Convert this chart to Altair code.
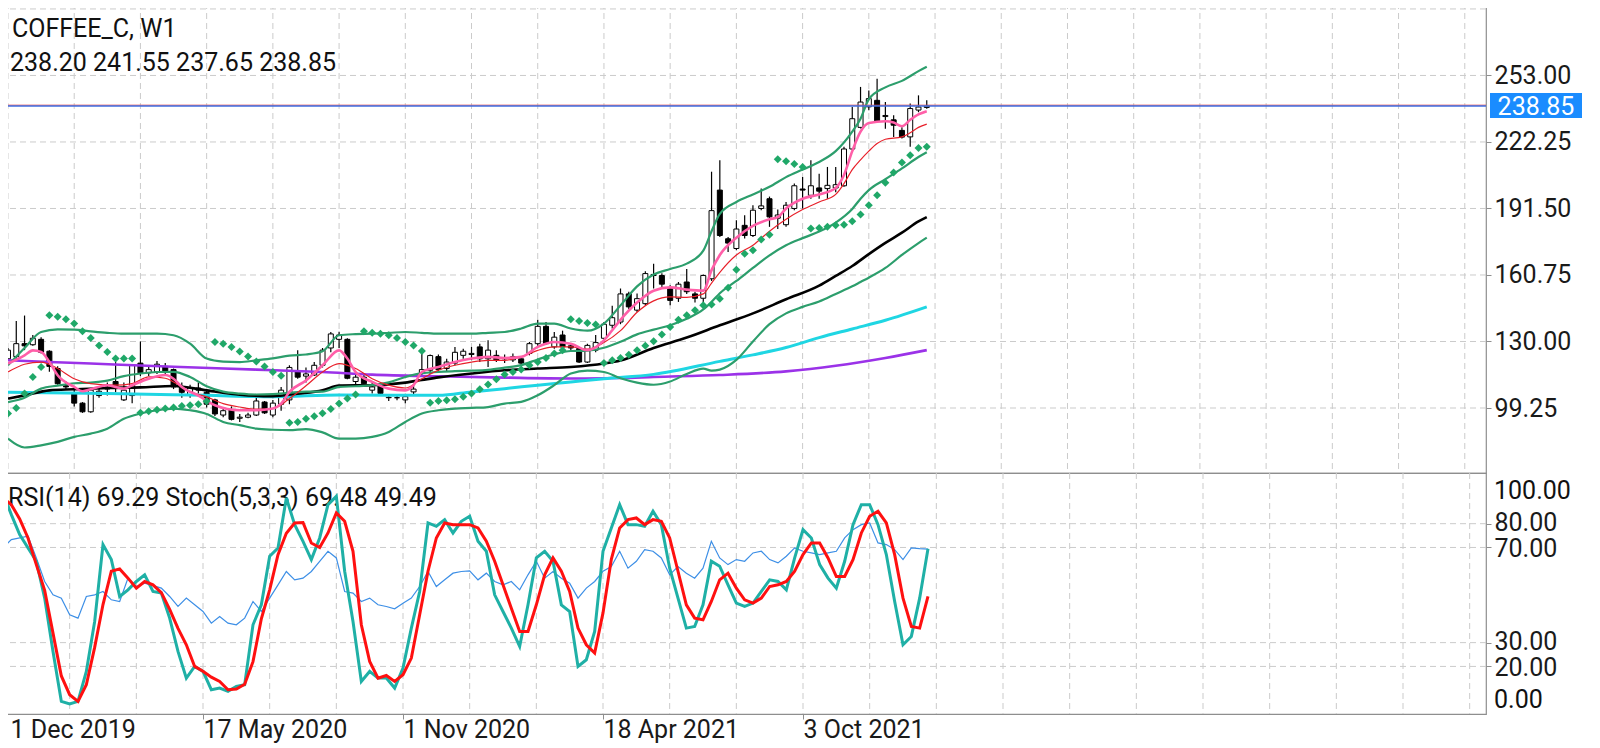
import altair as alt
import pandas as pd

# ---------------- data ----------------
OPEN = [122, 123, 129, 128.5, 131, 125.5, 117.5, 109.5, 106, 101.5,
        97.5, 105, 108, 111.5, 103, 105, 120, 115.5, 116, 118.5,
        117, 109, 105.5, 108.5, 106.5, 103, 96, 98.5, 94.5, 95,
        96, 102, 96, 101, 103, 116, 114, 114.5, 119, 127,
        131, 131, 111.5, 113.5, 107.5, 110, 104, 104, 103, 106.7,
        115.5, 116.7, 123, 117.5, 120, 123.6, 124, 127.5, 122, 123.6,
        122.5, 121.5, 122, 124.5, 129, 137, 127.5, 133, 128, 126.7,
        120.5, 126, 131.5, 137.5, 139, 152, 144.5, 147.5, 161, 160.5,
        155, 150, 157.5, 152, 150, 159, 200, 177.5, 173, 183.7,
        179, 191.5, 196, 187, 184, 191.5, 200.5, 197.6, 201, 200.7,
        201, 202, 219, 229, 238.5, 241.5, 234, 232.5, 227.6, 224.6,
        237, 238.2]
HIGH = [127, 139.5, 142, 133, 132, 126, 118.5, 111.5, 108, 102,
        108.5, 109, 111, 120.5, 111, 119.5, 130, 119, 121, 120,
        117.5, 111, 110, 111, 108, 103.5, 99.5, 100, 96.5, 97,
        104, 102.5, 103, 109, 119, 126, 118, 120.5, 127, 134.4,
        134.5, 131.5, 114.5, 114.5, 111, 111, 105, 105, 105, 110,
        125, 124, 124, 122, 127.5, 126.7, 127.5, 129, 130.6, 126,
        124, 124.5, 123, 129.8, 140, 139, 134.4, 135, 129, 127.5,
        129, 133, 139, 146.5, 154.5, 153, 152.2, 162.5, 166, 161.5,
        156, 157.5, 163.5, 153, 161, 208.5, 213.8, 178.3, 186, 188.4,
        193, 200.7, 197, 191, 194.5, 203, 206, 213.8, 207.6, 210.7,
        210.7, 220, 238.4, 247.7, 246.1, 251.5, 240.7, 234.6, 229, 240,
        243.8, 241.55]
LOW = [121, 121, 126, 128, 124.5, 116, 110, 108, 100, 97,
       97, 104, 105, 106.5, 102.5, 101.5, 114, 114, 115, 115,
       108, 104, 104, 106, 99.5, 95.5, 95, 93.5, 92.8, 94.5,
       95.5, 96.5, 95, 98, 101, 112.8, 111, 114, 118, 125,
       127, 112.5, 110, 109, 106, 105, 102.5, 102.8, 101.5, 105,
       114.5, 115, 116, 116, 119, 122, 121.3, 120.5, 118.2, 120.5,
       120, 120.5, 119, 123.6, 128, 128.5, 126.7, 126.5, 126, 120,
       120, 125, 129.8, 136, 138, 145, 143.6, 146.8, 154.5, 155,
       146.8, 148.3, 152, 148, 148, 158, 178.3, 171.4, 172.2, 177.6,
       178.3, 190.7, 183, 182, 183, 190.7, 191.5, 196, 196, 196,
       199, 201.5, 218.5, 228.5, 236.9, 231.5, 228.4, 224.6, 223.8, 220,
       236, 237.65]
CLOSE = [126, 129, 128, 131.5, 125, 118.5, 110.5, 109, 101.5, 97.5,
         107.5, 107, 109, 109.5, 107.5, 119, 115.5, 117, 119.5, 116,
         109, 106.5, 108.5, 107.5, 101, 96.5, 98, 94, 95, 96,
         102.5, 97, 101.5, 107.5, 118, 113.5, 115, 119, 126, 133.5,
         133, 113, 113.5, 110.5, 109, 106, 104.2, 104, 104.5, 108,
         117, 123.5, 117, 120.5, 125, 125.5, 124.5, 122, 126, 121.5,
         122, 123, 120, 129, 137, 129, 132, 127.5, 127, 120.5,
         128.2, 129.5, 138, 141, 152, 146, 149.8, 161.4, 160.5, 156.5,
         149, 156.5, 153, 150, 160.5, 190.5, 179, 175.5, 182, 179,
         190.7, 192.7, 187.6, 188.5, 193, 202, 200, 202, 199.5, 202.2,
         202.5, 219, 233, 240.7, 242.3, 232, 234.5, 230, 224.5, 237.7,
         238.4, 238.85]

SAR = [96.7, 99.3, 106, 113.6, 118.2, 142.1, 141.4, 140.3, 138.3, 134.7,
       131.6, 128.2, 125.2, 122.1, 122.1, 122.1, 97.1, 97.7, 98.5, 99.0,
       99.5, 100.2, 100.5, 101.0, 102.4, 129.8, 129.0, 127.5, 125.4, 123.1,
       120.7, 118.4, 115.9, 114.2, 92.4, 92.8, 94.3, 95.4, 96.8, 98.8,
       101.3, 103.6, 105.5, 134.7, 134.1, 133.6, 132.9, 131.6, 129.8, 128.2,
       125.6, 101.7, 102.5, 102.8, 103.3, 104.4, 105.9, 107.9, 110.1, 112.5,
       114.7, 115.9, 117.1, 119.0, 120.5, 122.4, 124.4, 126.0, 140.3, 139.5,
       138.5, 137.9, 120.0, 121.3, 122.4, 123.9, 126.0, 128.0, 130.1, 133.2,
       136.7, 140.0, 142.1, 144.4, 146.8, 147.1, 149.8, 154.9, 163.2, 170.6,
       172.2, 177.1, 179.4, 214.3, 213.3, 212.1, 210.7, 182.2, 182.5, 183.0,
       183.7, 184.0, 185.6, 188.7, 193.0, 197.6, 203.4, 208.1, 212.7, 216.1,
       219.5, 220.0]

BAND_W = [0, 2, 4, 6, 8, 10, 12, 14, 16, 18, 20, 22, 24, 26, 28, 30, 32, 34, 36, 38,
          40, 42, 44, 46, 48, 50, 52, 54, 56, 58, 60, 62, 64, 66, 68, 70, 72, 74, 76, 78,
          80, 82, 84, 85, 86, 88, 90, 92, 94, 96, 98, 100, 102, 103, 104, 106, 108, 110, 111]
BAND_UP = [119, 127, 134.4, 135.6, 135.5, 134.7, 134, 133.6, 133.6, 133.6,
           132.9, 129, 122.1, 120.7, 120.5, 121.3, 122.2, 123.5, 124, 125.5,
           132.9, 133.4, 133.6, 134, 134.4, 134, 133.6, 133.6, 133.6, 134,
           134.4, 136, 138.3, 138.3, 136, 135, 138.3, 146.7, 155.5, 161,
           163.5, 166, 172, 181, 189, 194.5, 198, 201.5, 206, 209.5,
           213, 218, 227, 233, 242, 247.5, 250.5, 255, 257]
BAND_MID = [102, 104, 108.2, 109.6, 110.7, 111, 111.9, 114, 115.2, 115.9,
            116, 113.6, 109.3, 106.8, 105.9, 105.5, 105.7, 106.3, 106.8, 106.8,
            109, 109.3, 109.8, 111.1, 113.6, 115.4, 115.9, 116.3, 116.5, 116.9,
            117.9, 119.1, 121.7, 124.1, 125.6, 125.8, 127.1, 129.9, 133.3, 135.5,
            137.5, 140.5, 144.8, 148.3, 152.3, 158, 164, 169.8, 174.5, 177.8,
            180.8, 185, 191.3, 196, 200, 205, 210, 215.3, 217.5]
BAND_LOW = [85.1, 81, 82, 83.6, 85.9, 87.4, 89.7, 94.3, 96.7, 98.2,
            99, 98.2, 96.5, 92.8, 91.3, 89.7, 89.2, 89, 89.5, 88,
            85.1, 85.1, 85.9, 88.2, 92.8, 96.7, 98.2, 99, 99.3, 99.7,
            101.3, 102.1, 105.1, 109.8, 115.2, 116.5, 115.9, 113, 111, 110,
            111.5, 115, 117.5, 116.5, 117, 121.5, 130, 138, 143, 146,
            148.5, 152, 155.5, 157.5, 159.5, 164, 170, 175.5, 178]

MA_BLACK_W = [0, 2, 5, 8, 12, 16, 20, 24, 28, 32, 35, 38, 40, 44, 48, 50, 52, 56, 60, 64,
              68, 72, 74, 78, 82, 86, 90, 94, 98, 100, 102, 104, 106, 108, 110, 111]
MA_BLACK = [103.6, 105.1, 107.4, 107.9, 108.5, 108.8, 109.4, 107.4, 105.4, 104.7,
            105.9, 107.4, 109.6, 109.8, 111, 112.2, 113.4, 115.2, 116.7, 117.5,
            118.2, 119.8, 121.2, 127, 131.8, 137.5, 143, 149.5, 155.8, 160.3,
            164.9, 170.4, 175.6, 180.3, 185.5, 187.5]

MA_CYAN_W = [0, 12, 24, 32, 40, 52, 56, 60, 64, 68, 72, 78, 86, 90, 94, 98, 102, 106, 111]
MA_CYAN = [106.5, 106, 105.1, 104.5, 105.3, 105.1, 106.7, 108.2, 109.8, 111.3,
           112.8, 114.8, 120.8, 123.8, 127.2, 131.8, 135.8, 139.8, 146]

MA_PURPLE_W = [0, 10, 20, 30, 38, 44, 52, 60, 68, 74, 78, 86, 94, 100, 106, 111]
MA_PURPLE = [121.3, 119.8, 118.3, 117, 115.9, 114.7, 113.9, 113.3, 112.9, 113.1,
             113.6, 114.5, 116.2, 118.8, 122.4, 126]

MA_PINK_W = [0, 2, 3, 4, 5, 6, 8, 9, 10, 12, 14, 15, 17, 19, 20, 21, 23, 25, 28, 30,
             32, 33, 34, 36, 38, 40, 41, 42, 44, 46, 48, 49, 50, 52, 54, 56, 58, 60, 62, 64,
             66, 68, 70, 72, 73, 74, 76, 78, 80, 82, 84, 85, 86, 88, 90, 92, 93, 94, 96, 98,
             100, 101, 102, 103, 104, 106, 107, 108, 109, 110, 111]
MA_PINK = [119.8, 123.6, 125.9, 125.2, 120.5, 114.4, 109, 107, 107.9, 109.8,
           108.2, 109.8, 112.8, 114.5, 112.8, 109, 105, 100.5, 98.2, 98.2,
           99, 101.3, 106.7, 112, 119, 125.9, 122.1, 115.9, 111.3, 108.2,
           107.4, 109.8, 115.9, 118.2, 120.5, 122.1, 122.9, 122.4, 122.9, 127.5,
           129.8, 129, 126, 130.5, 135.2, 140, 148, 153.5, 155, 154,
           153.5, 163, 170, 178, 183.5, 186.5, 187.5, 191.5, 196, 198,
           201, 207, 218, 227, 231, 231.8, 231.2, 229.5, 232.5, 235, 236.5]

MA_RED_W = [0, 2, 4, 6, 8, 10, 13, 15, 17, 19, 20, 22, 24, 26, 28, 30, 32, 34, 36, 38,
            40, 42, 44, 46, 48, 50, 52, 54, 56, 58, 60, 62, 64, 66, 68, 70, 72, 74, 76, 78,
            80, 82, 84, 85, 86, 88, 90, 92, 94, 96, 98, 100, 101, 102, 103, 104, 105, 106, 108, 109,
            110, 111]
MA_RED = [115.9, 119.5, 120.5, 117.5, 112.8, 110.5, 109.8, 110.5, 113.6, 113,
          111.3, 106.7, 104.4, 101.3, 99.7, 98.7, 99, 103.6, 109.5, 115.9,
          119.8, 117.5, 112.8, 109.8, 108.5, 112.8, 116.7, 119, 120.5, 121.3,
          121.3, 122.9, 125.9, 127.5, 127.5, 126.5, 129.5, 135, 143.5, 148.8,
          150.6, 150.4, 152, 157, 162, 170, 174.5, 181, 186.5, 191,
          194.5, 198, 203, 209.5, 214, 218, 221.5, 223.5, 224.6, 226.5,
          229, 230.5]

STOCH_K_W = [0, 1, 2, 4, 5, 6, 7, 8, 9, 10, 11, 12, 13, 14, 15, 16, 17, 18, 19, 20,
             21, 22, 23, 24, 25, 26, 27, 28, 29, 30, 31, 32, 33, 34, 35, 36, 37, 38, 39, 40,
             41, 42, 43, 44, 45, 46, 47, 48, 49, 50, 51, 52, 53, 54, 55, 56, 57, 58, 59, 60,
             61, 62, 63, 64, 65, 66, 67, 68, 69, 70, 71, 72, 73, 74, 75, 76, 77, 78, 79, 80,
             81, 82, 83, 84, 85, 86, 87, 88, 89, 90, 91, 92, 93, 94, 95, 96, 97, 98, 99, 100,
             101, 102, 103, 104, 105, 106, 107, 108, 109, 110, 111]
STOCH_K = [92.9, 83.8, 75.4, 64.2, 48.7, 26.3, 5.3, 4.2, 5.3, 17.9,
           38.9, 71.2, 64.9, 49.4, 52.2, 55.7, 58.5, 51.5, 50.8, 40.3,
           26.3, 15.1, 20, 17.9, 10.2, 10.9, 9.5, 11.6, 12.3, 37.5,
           45.9, 66.3, 69.8, 90.8, 79.6, 72.6, 64.9, 74, 88, 91.5,
           60, 38.9, 13.7, 17.9, 15.1, 15.1, 10.9, 19.3, 36.1, 51.5,
           80.3, 78.9, 81.7, 76.1, 81, 83.1, 72.6, 68.4, 50.1, 43.1,
           36.1, 28.4, 45.9, 65.6, 68.4, 64.2, 45.9, 43.1, 20, 22.8,
           34.7, 68.4, 78.2, 88, 79.6, 79.6, 78.9, 85.2, 79.6, 61.3,
           48.7, 36.1, 36.8, 45.9, 64.2, 62.1, 54.3, 46.6, 45.2, 46.6,
           51.5, 56.4, 55.7, 52.2, 65.6, 77.5, 74, 62.8, 57.1, 52.9,
           64.2, 79.6, 88, 88, 79.6, 67, 47.3, 29.1, 32.6, 48.7, 69.48]

STOCH_D_W = [0, 1, 2, 3, 4, 5, 6, 7, 8, 9, 10, 11, 12, 13, 14, 15, 16, 17, 18, 19,
             20, 21, 22, 23, 24, 25, 26, 27, 28, 29, 30, 31, 32, 33, 34, 35, 36, 37, 38, 39,
             40, 41, 42, 43, 44, 45, 46, 47, 48, 49, 50, 51, 52, 53, 54, 55, 56, 57, 58, 59,
             60, 61, 62, 63, 64, 65, 66, 67, 68, 69, 70, 71, 72, 73, 74, 75, 76, 77, 78, 79,
             80, 81, 82, 83, 84, 85, 86, 87, 88, 89, 90, 91, 92, 93, 94, 95, 96, 97, 98, 99,
             100, 101, 102, 103, 104, 105, 106, 107, 108, 109, 110, 111]
STOCH_D = [90.8, 88, 82, 74, 62.8, 52, 34, 16, 8.1, 5.3,
           12.3, 28, 46, 60, 61, 57.1, 52.9, 55.7, 54.3, 51,
           44, 36, 29.1, 20, 18, 15.5, 13.7, 10.2, 10.5, 12.5,
           22, 40, 52.2, 67, 76, 80.3, 80.5, 71.9, 70, 76.1,
           84.5, 81, 68.4, 37.5, 22.1, 15.1, 16.2, 13.7, 16.5, 23.5,
           41.7, 60, 74, 80.3, 79.6, 79.6, 79.6, 78.2, 72.6, 64.2,
           54.3, 44.5, 34.7, 34.7, 45.9, 58.5, 65.6, 60, 51.5, 36.1,
           29.1, 25.6, 42.5, 65, 78.2, 81.7, 82.4, 79.6, 81.7, 81,
           74, 60, 45.9, 40.3, 39.6, 47.3, 56.4, 59.2, 52.9, 48,
           46.6, 48.7, 53.6, 54.3, 55.7, 60, 67, 71.9, 71.9, 65.6,
           57.8, 57.8, 64.9, 76.1, 83.1, 85.2, 80.3, 67, 48.7, 36.8,
           36.1, 49.49]

RSI_W = [0, 1, 3, 4, 5, 6, 7, 8, 9, 10, 11, 12, 13, 14, 15, 16, 17, 19, 20, 21,
         22, 23, 24, 25, 26, 27, 28, 29, 30, 31, 32, 33, 34, 35, 36, 37, 38, 39, 40, 41,
         42, 43, 44, 45, 46, 47, 48, 49, 50, 51, 52, 53, 54, 55, 56, 57, 58, 59, 60, 61,
         62, 63, 64, 65, 66, 67, 68, 69, 70, 71, 72, 73, 74, 75, 76, 77, 78, 79, 80, 81,
         82, 83, 84, 85, 86, 87, 88, 89, 90, 91, 92, 93, 94, 95, 96, 97, 98, 99, 100, 101,
         102, 103, 104, 105, 106, 107, 108, 109, 110, 111]
RSI = [69.8, 73.3, 74.7, 65.6, 55.7, 50.1, 48.7, 41.7, 40.3, 49.4,
       50.1, 51.5, 48, 47.3, 57.1, 53.6, 55, 52.9, 49.4, 45.2,
       48.7, 45.9, 43.1, 38.2, 41, 38.2, 37.5, 40.3, 47.3, 43.1,
       48.7, 54.3, 59.9, 56.4, 57.1, 59.9, 64.2, 68.4, 65.6, 51.5,
       50.8, 47.3, 48.7, 45.9, 45.2, 44.2, 46.6, 48.7, 53.6, 59.9,
       53.6, 56.4, 59.2, 59.9, 60.2, 56.4, 59.2, 55.7, 54.3, 55.7,
       52.2, 58.5, 64.2, 57.1, 59.9, 57.1, 55, 48.7, 52.9, 55.7,
       60, 62, 68.4, 61.3, 64.2, 69.1, 68.4, 65.6, 58.5, 62,
       59.2, 57.1, 61.3, 72.6, 65.6, 62.8, 64.9, 64.2, 67.7, 68.4,
       64.9, 63.5, 66.3, 69.8, 68.4, 67.7, 67, 67.7, 68.4, 74,
       77.5, 79.6, 80.3, 71.9, 71.2, 69.1, 64.9, 69.8, 69.5, 69.29]

DATE_WEEKS = [0, 24, 48, 72, 96]
DATE_LABELS = ["1 Dec 2019", "17 May 2020", "1 Nov 2020", "18 Apr 2021", "3 Oct 2021"]
GRID_WEEKS = [0, 8, 16, 24, 32, 40, 48, 56, 64, 72, 80, 88, 96, 104, 112, 120,
              128, 136, 144, 152, 160, 168, 176]
PRICE_GRID = [99.25, 130.00, 160.75, 191.50, 222.25, 253.00, 283.75]
PRICE_TICKS = [99.25, 130.00, 160.75, 191.50, 222.25, 253.00]
OSC_TICKS = [20, 30, 70, 80]
OSC_EDGE_LABELS = ["100.00", "0.00"]
OSC_GRID = [20, 30, 70, 80]
LAST_PRICE = 238.85
ASK_PRICE = 239.25
TITLE = "COFFEE_C, W1"
OHLC_TEXT = "238.20 241.55 237.65 238.85"
OSC_TEXT = "RSI(14) 69.29 Stoch(5,3,3) 69.48 49.49"

# ---------------- layout / style ----------------
W = 1484
H_TOP = 470
H_BOT = 241
FONT = "Roboto"
FS = 25
GRID_COLOR = "#cbcbcb"
DASH = [6, 4]

xs = alt.Scale(domain=[-0.12, 177.96], nice=False, zero=False)
ys_top = alt.Scale(domain=[69.2, 286.5], nice=False, zero=False)
ys_bot = alt.Scale(domain=[0, 101.3], nice=False, zero=False)

top_y_axis = alt.Axis(orient="right", values=PRICE_TICKS, title=None, grid=False,
                      format=".2f", tickSize=5, labelPadding=3, domain=False)
bot_y_axis = alt.Axis(orient="right", values=OSC_TICKS, title=None, grid=False,
                      format=".2f", tickSize=5, labelPadding=3, domain=False,
                      labelOverlap=False,
                      labelOffset={"condition": {"test": "datum.value == 80 || datum.value == 30",
                                                 "value": -1.5},
                                   "value": 1})

label_expr = ""
for wk, lb in zip(DATE_WEEKS, DATE_LABELS):
    label_expr += f"datum.value == {wk} ? '{lb}' : "
label_expr += "''"
bot_x_axis = alt.Axis(values=DATE_WEEKS, labelExpr=label_expr, title=None, grid=False,
                      labelAlign="left", labelFlush=False, tickSize=5, labelPadding=-2,
                      domain=False, labelBaseline="top", labelOverlap=False,
                      labelOffset={"condition": {"test": "datum.value == 0", "value": 7},
                                   "value": 0})


def XT(field="week"):
    return alt.X(f"{field}:Q", scale=xs, axis=None)


def YT(field="v"):
    return alt.Y(f"{field}:Q", scale=ys_top, axis=top_y_axis)


def XB(field="week"):
    return alt.X(f"{field}:Q", scale=xs, axis=bot_x_axis)


def YB(field="v"):
    return alt.Y(f"{field}:Q", scale=ys_bot, axis=bot_y_axis)


def series(weeks, vals):
    return pd.DataFrame({"week": weeks, "v": vals})


def label(text, x, y, color="#111111", align="left"):
    return alt.Chart(pd.DataFrame({"t": [text]})).mark_text(
        font=FONT, fontSize=FS, color=color, align=align, baseline="middle").encode(
        x=alt.value(x), y=alt.value(y), text="t:N")


# ---------------- top panel ----------------
candles = pd.DataFrame({"week": list(range(len(CLOSE))), "open": OPEN, "high": HIGH,
                        "low": LOW, "close": CLOSE})
candles["dir"] = ["up" if c >= o else "down" for o, c in zip(OPEN, CLOSE)]

hgrid_top = alt.Chart(pd.DataFrame({"v": PRICE_GRID})).mark_rule(
    color=GRID_COLOR, strokeDash=DASH, strokeWidth=1).encode(y=YT())
vgrid_top = alt.Chart(pd.DataFrame({"week": GRID_WEEKS})).mark_rule(
    color=GRID_COLOR, strokeDash=DASH, strokeWidth=1).encode(x=XT())

wicks = alt.Chart(candles).mark_rule(color="black", strokeWidth=1.2, clip=True).encode(
    x=XT(), y=YT("low"), y2="high:Q")
bodies = alt.Chart(candles).mark_bar(size=5, stroke="black", strokeWidth=1, clip=True).encode(
    x=XT(), y=YT("open"), y2="close:Q",
    fill=alt.Fill("dir:N", scale=alt.Scale(domain=["up", "down"], range=["white", "black"]),
                  legend=None))


def tline(weeks, vals, color, width):
    return alt.Chart(series(weeks, vals)).mark_line(
        color=color, strokeWidth=width, clip=True, interpolate="monotone").encode(x=XT(), y=YT())


purple = tline(MA_PURPLE_W, MA_PURPLE, "#9b32e8", 2.6)
cyan = tline(MA_CYAN_W, MA_CYAN, "#1fd6e3", 3)
black = tline(MA_BLACK_W, MA_BLACK, "#000000", 2.6)
b_up = tline(BAND_W, BAND_UP, "#2c9e6c", 2.2)
b_mid = tline(BAND_W, BAND_MID, "#2c9e6c", 2.2)
b_low = tline(BAND_W, BAND_LOW, "#2c9e6c", 2.2)
red = tline(MA_RED_W, MA_RED, "#e8202a", 1.2)
pink = tline(MA_PINK_W, MA_PINK, "#ff5fa8", 2.6)

sar = alt.Chart(series(list(range(len(SAR))), SAR)).mark_point(
    shape="diamond", filled=True, size=64, color="#1fa868", opacity=1, clip=True).encode(
    x=XT(), y=YT())

ask_line = alt.Chart(pd.DataFrame({"v": [ASK_PRICE]})).mark_rule(
    color="#e0454a", strokeWidth=1).encode(y=YT())
bid_line = alt.Chart(pd.DataFrame({"v": [LAST_PRICE]})).mark_rule(
    color="#3f6ee0", strokeWidth=1.4).encode(y=YT())

price_box = alt.Chart(pd.DataFrame({"t": [f"{LAST_PRICE:.2f}"]})).mark_rect(
    color="#1a8cff").encode(x=alt.value(W + 4), x2=alt.value(W + 96),
                            y=alt.value(90), y2=alt.value(115))
price_txt = label(f"{LAST_PRICE:.2f}", W + 50, 103.5, color="white", align="center")

hdr1 = label(TITLE, 10, 25.5)
hdr2 = label(OHLC_TEXT, 8, 60)

top = alt.layer(hgrid_top, vgrid_top, hdr1, hdr2, wicks, bodies, purple, cyan, black,
                b_low, b_mid, b_up, red, pink, sar, ask_line, bid_line, price_box, price_txt
                ).properties(width=W, height=H_TOP)

# ---------------- bottom panel ----------------
hgrid_bot = alt.Chart(pd.DataFrame({"v": OSC_GRID})).mark_rule(
    color=GRID_COLOR, strokeDash=DASH, strokeWidth=1).encode(y=YB())
vgrid_bot = alt.Chart(pd.DataFrame({"week": GRID_WEEKS})).mark_rule(
    color=GRID_COLOR, strokeDash=DASH, strokeWidth=1).encode(x=XB())
hdr3 = label(OSC_TEXT, 6, 25)
lab100 = label(OSC_EDGE_LABELS[0], W + 8, 18)
lab0 = label(OSC_EDGE_LABELS[1], W + 8, 227)


def bline(weeks, vals, color, width):
    return alt.Chart(series(weeks, vals)).mark_line(
        color=color, strokeWidth=width, clip=True).encode(x=XB(), y=YB())


rsi = bline(RSI_W, RSI, "#3d8fe6", 1.2)
k_line = bline(STOCH_K_W, STOCH_K, "#1fb0a6", 3)
d_line = bline(STOCH_D_W, STOCH_D, "#ff1010", 3)

bottom = alt.layer(hgrid_bot, vgrid_bot, hdr3, rsi, k_line, d_line, lab100, lab0).properties(
    width=W, height=H_BOT)

chart = alt.vconcat(top, bottom, spacing=0, bounds="flush").properties(
    padding={"left": -8, "top": -7, "right": 5, "bottom": 5}
).configure_view(stroke="#8e8e8e", strokeWidth=1.2).configure_axis(
    labelFont=FONT, labelFontSize=FS, labelColor="#1a1a1a",
    tickColor="#8e8e8e", domainColor="#8e8e8e")

chart.save("out.html", embed_options={"renderer": "svg", "actions": False})
